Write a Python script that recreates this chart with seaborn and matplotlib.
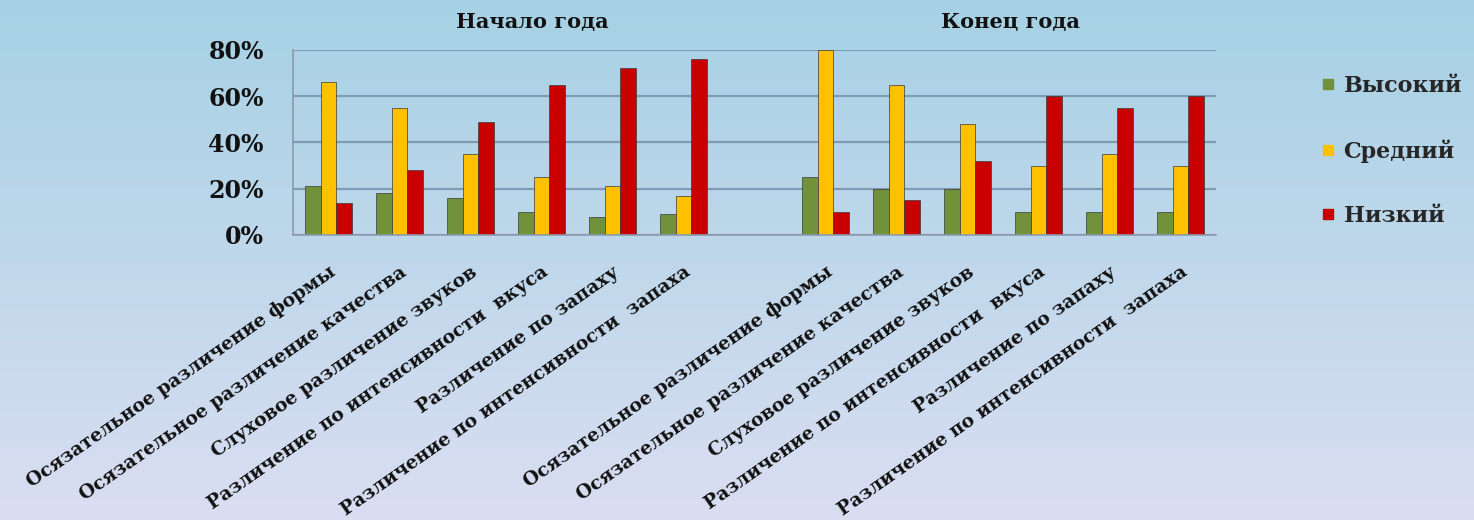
import numpy as np
import pandas as pd
import matplotlib
matplotlib.use("Agg")
import matplotlib.pyplot as plt
from matplotlib.lines import Line2D
import seaborn as sns

# chart data (percent of children per level)
tasks = [
    "Осязательное различение формы",
    "Осязательное различение качества",
    "Слуховое различение звуков",
    "Различение по интенсивности  вкуса",
    "Различение по запаху",
    "Различение по интенсивности  запаха",
]
periods = ["Начало года", "Конец года"]
levels = ["Высокий", "Средний", "Низкий"]

start_high = [21, 18, 16, 10, 8, 9]
start_mid = [66, 55, 35, 25, 21, 17]
start_low = [14, 28, 49, 65, 72, 76]
end_high = [25, 20, 20, 10, 10, 10]
end_mid = [80, 65, 48, 30, 35, 30]
end_low = [10, 15, 32, 60, 55, 60]

colors = ["#71923a", "#ffc000", "#c80000"]

# long table, one slot per task per period, empty slot between periods
rows = []
for key, series in [("start", [start_high, start_mid, start_low]),
                    ("end", [end_high, end_mid, end_low])]:
    for lvl, vals in zip(levels, series):
        for i, v in enumerate(vals):
            rows.append({"slot": f"{key}_{i}", "level": lvl, "value": v})
df = pd.DataFrame(rows)
order = [f"start_{i}" for i in range(6)] + ["gap"] + [f"end_{i}" for i in range(6)]

sns.set_style("white")
plt.rcParams["font.family"] = ["DejaVu Serif"]
plt.rcParams["font.weight"] = "bold"

fig = plt.figure(figsize=(14.74, 5.2), dpi=100)

# gradient background
bg = fig.add_axes([0, 0, 1, 1], zorder=-5)
top = np.array([166, 209, 228]) / 255
bottom = np.array([218, 222, 242]) / 255
t = np.linspace(0, 1, 256)[:, None]
grad = top * (1 - t) + bottom * t
bg.imshow(grad[:, None, :], aspect="auto", extent=[0, 1, 0, 1])
bg.axis("off")

ax = fig.add_axes([293 / 1474, 1 - 235 / 520, (1216 - 293) / 1474, 185 / 520])
ax.patch.set_alpha(0)

sns.barplot(data=df, x="slot", y="value", hue="level", order=order,
            hue_order=levels, palette=colors, saturation=1, width=0.66,
            errorbar=None, edgecolor="#3a3a3a", linewidth=0.5, legend=False,
            ax=ax)

ax.set_ylim(0, 80)
ax.set_xlim(-0.5, 12.5)
ax.set_yticks([0, 20, 40, 60, 80])
ax.set_yticklabels([f"{v}%" for v in [0, 20, 40, 60, 80]], fontsize=17,
                   fontweight="bold", color="#111111")
ax.yaxis.grid(True, color="#7f9cb4", linewidth=1.6)
ax.set_axisbelow(True)

ax.set_xticks(range(13))
ax.set_xticklabels(tasks + [""] + tasks, fontsize=13.5, fontweight="bold",
                   color="#111111")
plt.setp(ax.get_xticklabels(), rotation=35, ha="right", rotation_mode="anchor")
ax.tick_params(axis="x", length=0, pad=20)
ax.set_xticks(np.arange(-0.5, 13, 1), minor=True)
ax.tick_params(axis="x", which="minor", length=4, color="#8a9aab")
ax.tick_params(axis="y", length=5, color="#8a9aab", pad=16)
ax.set_xlabel("")
ax.set_ylabel("")

for side in ["top", "right"]:
    ax.spines[side].set_visible(False)
for side in ["left", "bottom"]:
    ax.spines[side].set_color("#8a9aab")
    ax.spines[side].set_linewidth(1.2)

fig.text(532 / 1474, 1 - 22 / 520, periods[0], ha="center", va="center",
         fontsize=15, fontweight="bold", color="#111111")
fig.text(1010 / 1474, 1 - 22 / 520, periods[1], ha="center", va="center",
         fontsize=15, fontweight="bold", color="#111111")

handles = [Line2D([0], [0], marker="s", linestyle="", markersize=7,
                  markerfacecolor=c, markeredgecolor=c) for c in colors]
fig.legend(handles, levels, loc="upper left",
           bbox_to_anchor=(1308 / 1474, 1 - 64 / 520), frameon=False,
           labelspacing=1.9, handletextpad=0.3, handlelength=0.8,
           borderpad=0, prop={"weight": "bold", "size": 16})

fig.savefig("out.png", dpi=100)
